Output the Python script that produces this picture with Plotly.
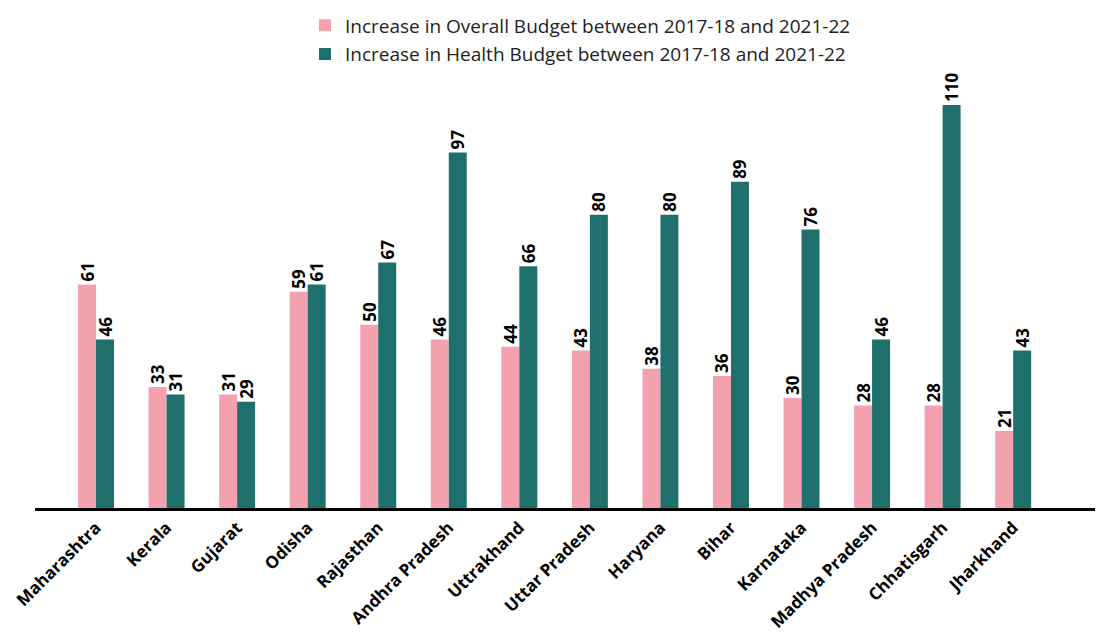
import plotly.graph_objects as go

states = ["Maharashtra", "Kerala", "Gujarat", "Odisha", "Rajasthan", "Andhra Pradesh",
          "Uttrakhand", "Uttar Pradesh", "Haryana", "Bihar", "Karnataka",
          "Madhya Pradesh", "Chhatisgarh", "Jharkhand"]
overall = [61, 33, 31, 59, 50, 46, 44, 43, 38, 36, 30, 28, 28, 21]
health = [46, 31, 29, 61, 67, 97, 66, 80, 80, 89, 76, 46, 110, 43]

PINK = "#F4A1AF"
TEAL = "#1F6F6D"
FONT = "Open Sans"

fig = go.Figure()
fig.add_trace(go.Bar(
    x=states, y=overall, name="Increase in Overall Budget between 2017-18 and 2021-22",
    legendgroup="a",
    marker=dict(color=PINK, line=dict(width=0)),
    text=overall, textposition="outside", textangle=-90, constraintext="none",
    textfont=dict(family=FONT, size=17, color="black", weight="bold"),
    cliponaxis=False,
))
fig.add_trace(go.Bar(
    x=states, y=health, name="Increase in Health Budget between 2017-18 and 2021-22",
    legendgroup="b",
    marker=dict(color=TEAL, line=dict(width=0)),
    text=health, textposition="outside", textangle=-90, constraintext="none",
    textfont=dict(family=FONT, size=17, color="black", weight="bold"),
    cliponaxis=False,
))

fig.update_layout(
    width=1108, height=639,
    margin=dict(l=35, r=13, t=80, b=131, autoexpand=False),
    paper_bgcolor="white", plot_bgcolor="white",
    barmode="group", bargap=0.49, bargroupgap=0,
    font=dict(family=FONT, color="black"),
    legend=dict(
        x=0.2547, y=1.172, xanchor="left", yanchor="top",
        font=dict(family=FONT, size=19, color="#222"),
        bgcolor="rgba(0,0,0,0)",
        traceorder="grouped", tracegroupgap=1,
    ),
    xaxis=dict(
        type="category", categoryorder="array", categoryarray=states,
        autorange=False, range=[-0.865, 14.16], tickangle=-45,
        tickfont=dict(family=FONT, size=17, color="black", weight="bold"),
        showline=True, linecolor="black", linewidth=3,
        showgrid=False, zeroline=False, ticks="",
    ),
    yaxis=dict(
        range=[0, 116.8], autorange=False, visible=False, showgrid=False, zeroline=False,
    ),
)

fig.write_html("out.html")
